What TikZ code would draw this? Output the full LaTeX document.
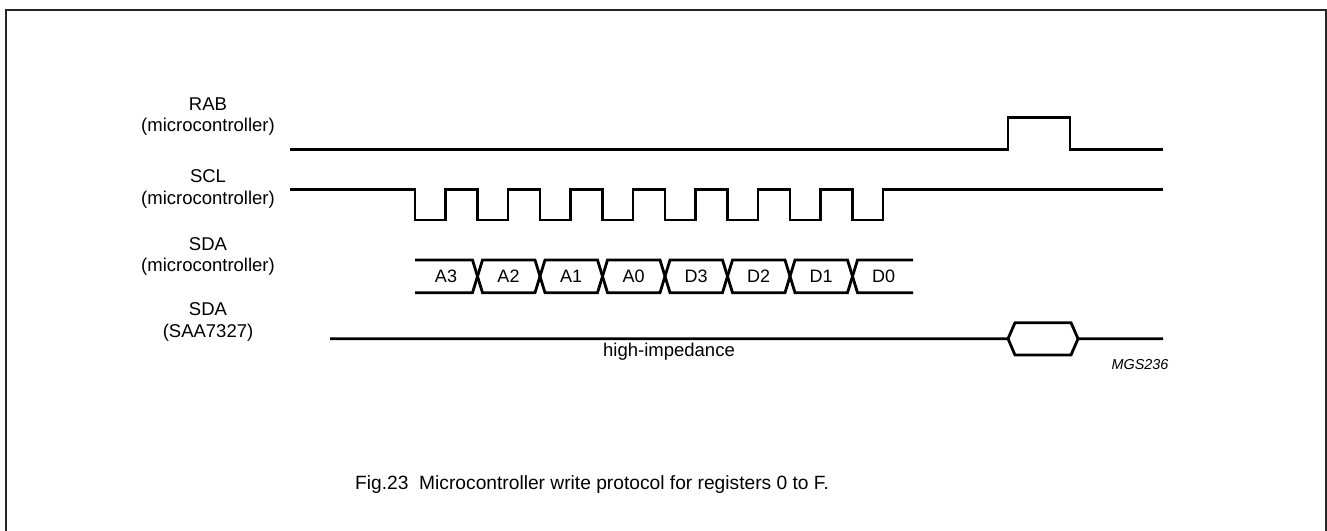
\documentclass[tikz,border=0pt]{standalone}
\usepackage{fontspec}
\setmainfont{Liberation Sans}
\begin{document}
\begin{tikzpicture}[x=1pt,y=-1pt,
  wave/.style={line width=2.8pt,line join=miter},
  frame/.style={line width=2pt,draw=black!85},
  lbl/.style={font=\fontsize{18.5}{21.6}\selectfont,align=center,anchor=base,inner sep=0pt},
  cell/.style={font=\fontsize{18}{20}\selectfont,anchor=base,inner sep=0pt},
  figcap/.style={font=\fontsize{19.2}{22}\selectfont,anchor=base west,inner sep=0pt},
  code/.style={font=\itshape\fontsize{14.4}{16}\selectfont,anchor=base,inner sep=0pt}]
\useasboundingbox (0,0) rectangle (1327,530);
\fill[white] (0,0) rectangle (1327,530);
% frame
\draw[frame] (5.5,545) -- (5.5,10) -- (1325.5,10) -- (1325.5,545);

% labels
\node[lbl] (labRAB) at (208,131.7) {RAB\\(microcontroller)};
\node[lbl] (labSCL) at (208,204) {SCL\\(microcontroller)};
\node[lbl] (labSDAm) at (208,271.7) {SDA\\(microcontroller)};
\node[lbl] (labSDAs) at (208,337.3) {SDA\\(SAA7327)};

% RAB
\draw[wave] (290,149.3) -- (1008,149.3) -- (1008,117.7) -- (1070,117.7) -- (1070,149.3) -- (1163,149.3);

% SCL
\draw[wave] (290,189.5)
  \foreach \i in {0,...,7} {
    -- ({415+62.5*\i},189.5) -- ({415+62.5*\i},220) -- ({445.5+62.5*\i},220) -- ({445.5+62.5*\i},189.5)
  } -- (1163,189.5);

% SDA microcontroller bus
\def\ytop{260}
\def\ybot{292.7}
\draw[wave] (415,\ytop) -- (472.5,\ytop) -- (482.5,\ybot) -- (535,\ybot) -- (545,\ytop) -- (597.5,\ytop) -- (607.5,\ybot) -- (660,\ybot) -- (670,\ytop) -- (722.5,\ytop) -- (732.5,\ybot) -- (785,\ybot) -- (795,\ytop) -- (847.5,\ytop) -- (857.5,\ybot) -- (913,\ybot);
\draw[wave] (415,\ybot) -- (472.5,\ybot) -- (482.5,\ytop) -- (535,\ytop) -- (545,\ybot) -- (597.5,\ybot) -- (607.5,\ytop) -- (660,\ytop) -- (670,\ybot) -- (722.5,\ybot) -- (732.5,\ytop) -- (785,\ytop) -- (795,\ybot) -- (847.5,\ybot) -- (857.5,\ytop) -- (913,\ytop);
\foreach \t [count=\k from 0] in {A3,A2,A1,A0,D3,D2,D1,D0} {
  \node[cell] (cell\k) at ({446+62.5*\k},282.8) {\t};
}

% SDA SAA7327
\draw[wave] (330,338.7) -- (1008,338.7) -- (1015,322.7) -- (1071,322.7) -- (1078,338.7) -- (1163,338.7);
\draw[wave] (1008,338.7) -- (1015,355) -- (1071,355) -- (1078,338.7);
\node[lbl] (hiz) at (669,356) {high-impedance};
\node[code] (mgs) at (1140,369) {MGS236};

% caption
\node[figcap] (caption) at (355,489) {Fig.23\hspace{0.556em}Microcontroller write protocol for registers 0 to F.};
\end{tikzpicture}
\end{document}
